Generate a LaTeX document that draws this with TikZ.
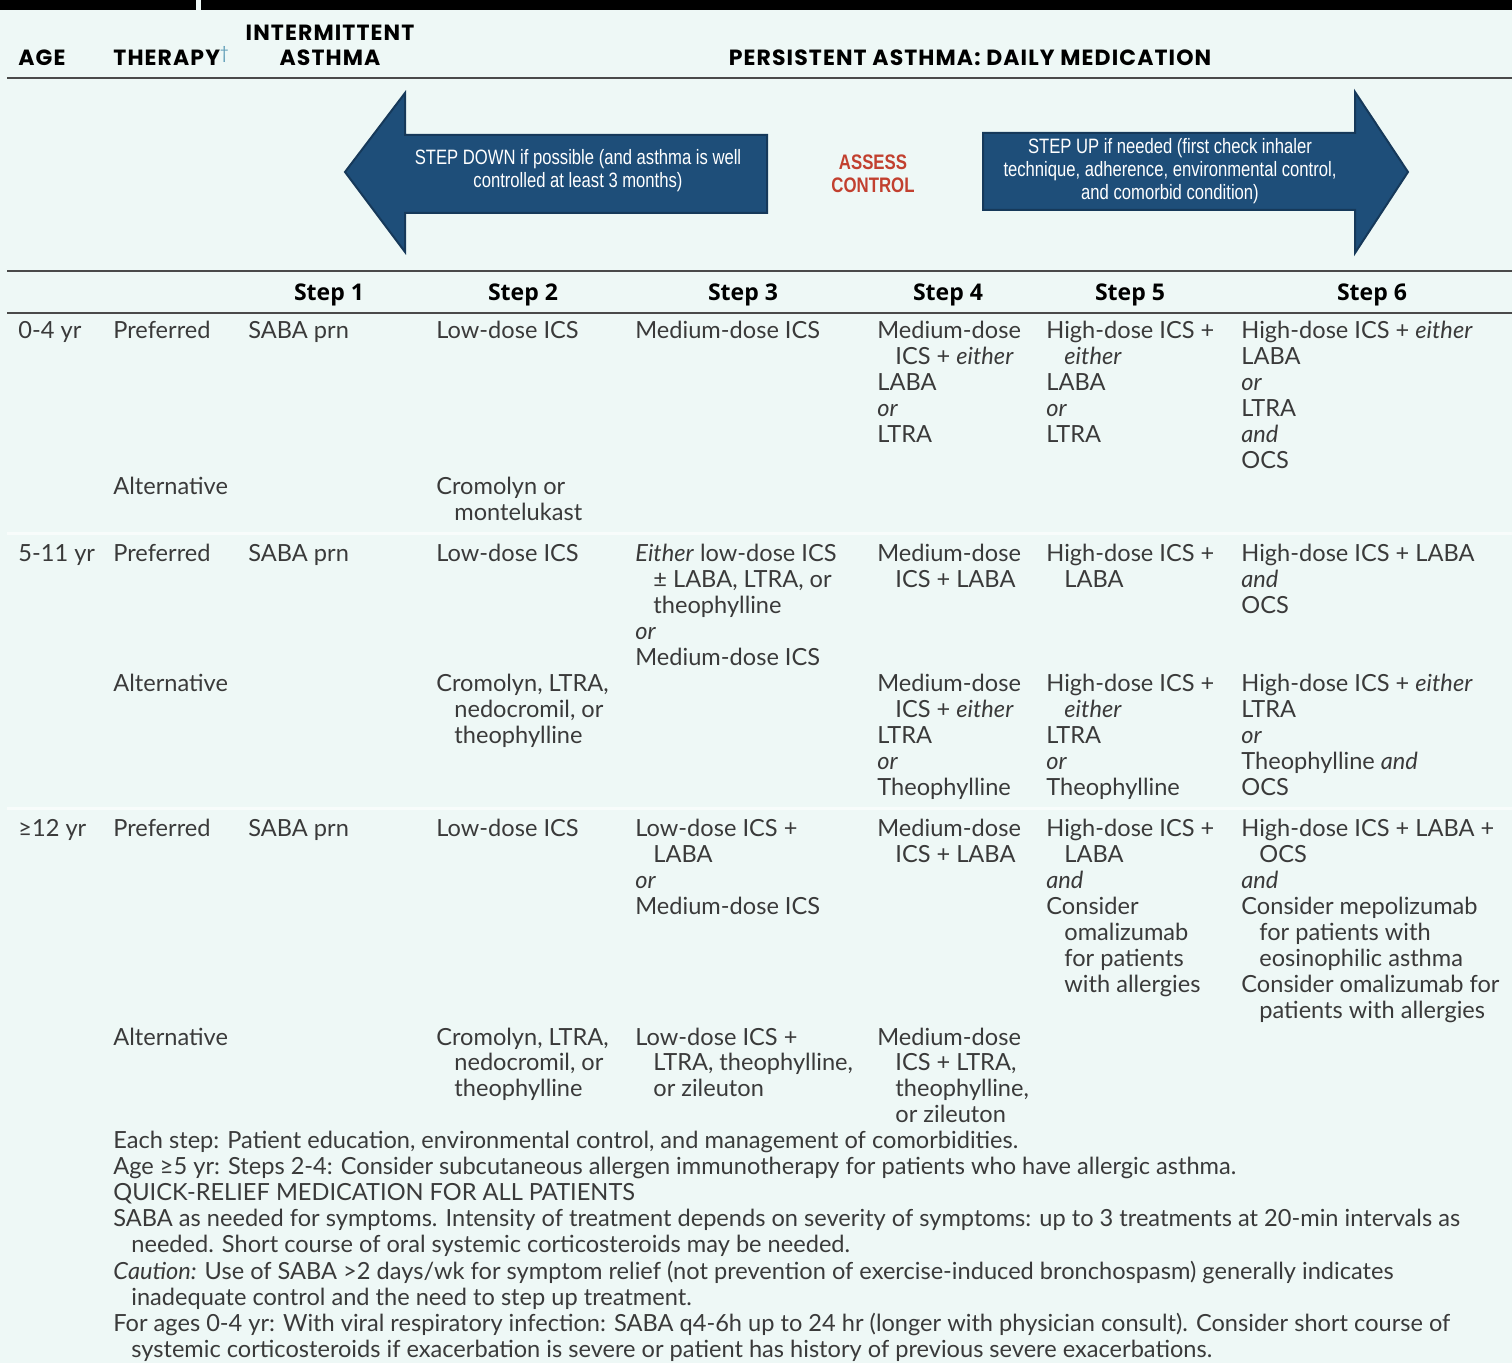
\documentclass[tikz,border=0pt]{standalone}
\usepackage{fontspec}
\setmainfont{Lato}
\newfontfamily\condfont{Liberation Sans}[FakeStretch=0.8]
\newfontfamily\headfont{Poppins}[LetterSpace=5]
\newfontfamily\stepfont{Open Sans}
\definecolor{bg}{HTML}{EEF8F6}
\definecolor{txt}{HTML}{3A3A3A}
\definecolor{navy}{HTML}{1E4E79}
\definecolor{navyd}{HTML}{16395A}
\definecolor{assess}{HTML}{C2402F}
\definecolor{rule}{HTML}{4A4A4A}
\definecolor{dagger}{HTML}{5A9AB5}
\newcommand{\ind}{\hspace*{9pt}}
\newcommand{\cell}[4]{\node[body] (#1) at (#2,#3) {\begin{tabular}[t]{@{}l@{}}#4\end{tabular}};}
\tikzset{
  body/.style={font=\fontsize{11.8}{13}\selectfont, text=txt, inner sep=0pt, anchor=base west},
  hdr/.style={font=\headfont\fontsize{11}{12}\selectfont\bfseries, text=black, inner sep=0pt},
  stephdr/.style={font=\stepfont\fontsize{11.5}{13}\selectfont\bfseries, text=black, inner sep=0pt, anchor=base},
  arrowtext/.style={font=\condfont\fontsize{10.4}{11.5}\selectfont, text=white, align=center, inner sep=0pt},
  hrule/.style={draw=rule, line width=1.2pt},
  bigarrow/.style={fill=navy, draw=navyd, line width=1pt, line join=miter}
}
\begin{document}
\begin{tikzpicture}[x=0.5pt,y=-0.5pt]
\useasboundingbox (0,0) rectangle (1512,1363);
\fill[bg] (0,0) rectangle (1512,1363);
% top black bar
\fill[black] (0,0) rectangle (1512,10);
\fill[bg] (196,0) rectangle (201,10);
% rules
\draw[hrule] (7,78) -- (1512,78);
\draw[hrule] (7,271) -- (1512,271);
\draw[hrule] (7,313) -- (1512,313);
% faint band separators
\draw[white, opacity=0.6, line width=1.5pt] (7,534) -- (1512,534);
\draw[white, opacity=0.6, line width=1.5pt] (7,809) -- (1512,809);

% header
\node[hdr, anchor=base west] (hage) at (18,66) {AGE};
\node[hdr, anchor=base west] (hther) at (113,66) {THERAPY\textsuperscript{\mdseries\color{dagger}†}};
\node[hdr, anchor=base] (hint1) at (330,41) {INTERMITTENT};
\node[hdr, anchor=base] (hint2) at (330,66) {ASTHMA};
\node[hdr, anchor=base] (hpers) at (970,66) {PERSISTENT ASTHMA: DAILY MEDICATION};

% arrows
\path[bigarrow] (345,172) -- (405,93) -- (405,135) -- (767,135) -- (767,213) -- (405,213) -- (405,252) -- cycle;
\path[bigarrow] (983,133) -- (1355,133) -- (1355,92) -- (1408,172) -- (1355,253) -- (1355,210) -- (983,210) -- cycle;
\node[arrowtext] (down) at (578,171) {STEP DOWN if possible (and asthma is well\\controlled at least 3 months)};
\node[arrowtext] (up) at (1170,171) {STEP UP if needed (first check inhaler\\technique, adherence, environmental control,\\and comorbid condition)};
\node[font=\condfont\fontsize{10.5}{11.5}\selectfont\bfseries, text=assess, align=center, inner sep=0pt] (assess) at (873,174) {ASSESS\\CONTROL};

% step header
\node[stephdr] (s1) at (329,301) {Step 1};
\node[stephdr] (s2) at (523,301) {Step 2};
\node[stephdr] (s3) at (743,301) {Step 3};
\node[stephdr] (s4) at (948,301) {Step 4};
\node[stephdr] (s5) at (1130,301) {Step 5};
\node[stephdr] (s6) at (1372,301) {Step 6};

% ---- 0-4 yr
\cell{a1}{18}{339}{0-4 yr}
\cell{a1p}{113}{339}{Preferred}
\cell{a1s1}{248}{339}{SABA prn}
\cell{a1s2}{436}{339}{Low-dose ICS}
\cell{a1s3}{635}{339}{Medium-dose ICS}
\cell{a1s4}{877}{339}{Medium-dose\\\ind ICS + \emph{either}\\LABA\\\emph{or}\\LTRA}
\cell{a1s5}{1046}{339}{High-dose ICS +\\\ind \emph{either}\\LABA\\\emph{or}\\LTRA}
\cell{a1s6}{1241}{339}{High-dose ICS + \emph{either}\\LABA\\\emph{or}\\LTRA\\\emph{and}\\OCS}
\cell{a1a}{113}{495}{Alternative}
\cell{a1as2}{436}{495}{Cromolyn or\\\ind montelukast}

% ---- 5-11 yr
\cell{a2}{18}{562}{5-11 yr}
\cell{a2p}{113}{562}{Preferred}
\cell{a2s1}{248}{562}{SABA prn}
\cell{a2s2}{436}{562}{Low-dose ICS}
\cell{a2s3}{635}{562}{\emph{Either} low-dose ICS\\\ind ± LABA, LTRA, or\\\ind theophylline\\\emph{or}\\Medium-dose ICS}
\cell{a2s4}{877}{562}{Medium-dose\\\ind ICS + LABA}
\cell{a2s5}{1046}{562}{High-dose ICS +\\\ind LABA}
\cell{a2s6}{1241}{562}{High-dose ICS + LABA\\\emph{and}\\OCS}
\cell{a2a}{113}{692}{Alternative}
\cell{a2as2}{436}{692}{Cromolyn, LTRA,\\\ind nedocromil, or\\\ind theophylline}
\cell{a2as4}{877}{692}{Medium-dose\\\ind ICS + \emph{either}\\LTRA\\\emph{or}\\Theophylline}
\cell{a2as5}{1046}{692}{High-dose ICS +\\\ind \emph{either}\\LTRA\\\emph{or}\\Theophylline}
\cell{a2as6}{1241}{692}{High-dose ICS + \emph{either}\\LTRA\\\emph{or}\\Theophylline \emph{and}\\OCS}

% ---- >=12 yr
\cell{a3}{18}{837}{≥12 yr}
\cell{a3p}{113}{837}{Preferred}
\cell{a3s1}{248}{837}{SABA prn}
\cell{a3s2}{436}{837}{Low-dose ICS}
\cell{a3s3}{635}{837}{Low-dose ICS +\\\ind LABA\\\emph{or}\\Medium-dose ICS}
\cell{a3s4}{877}{837}{Medium-dose\\\ind ICS + LABA}
\cell{a3s5}{1046}{837}{High-dose ICS +\\\ind LABA\\\emph{and}\\Consider\\\ind omalizumab\\\ind for patients\\\ind with allergies}
\cell{a3s6}{1241}{837}{High-dose ICS + LABA +\\\ind OCS\\\emph{and}\\Consider mepolizumab\\\ind for patients with\\\ind eosinophilic asthma\\Consider omalizumab for\\\ind patients with allergies}
\cell{a3a}{113}{1045}{Alternative}
\cell{a3as2}{436}{1045}{Cromolyn, LTRA,\\\ind nedocromil, or\\\ind theophylline}
\cell{a3as3}{635}{1045}{Low-dose ICS +\\\ind LTRA, theophylline,\\\ind or zileuton}
\cell{a3as4}{877}{1045}{Medium-dose\\\ind ICS + LTRA,\\\ind theophylline,\\\ind or zileuton}

% ---- footnotes
\cell{fn}{113}{1149}{Each step: Patient education, environmental control, and management of comorbidities.\\
Age ≥5 yr: Steps 2-4: Consider subcutaneous allergen immunotherapy for patients who have allergic asthma.\\
QUICK-RELIEF MEDICATION FOR ALL PATIENTS\\
SABA as needed for symptoms. Intensity of treatment depends on severity of symptoms: up to 3 treatments at 20-min intervals as\\
\ind needed. Short course of oral systemic corticosteroids may be needed.\\
\emph{Caution:} Use of SABA >2 days/wk for symptom relief (not prevention of exercise-induced bronchospasm) generally indicates\\
\ind inadequate control and the need to step up treatment.\\
For ages 0-4 yr: With viral respiratory infection: SABA q4-6h up to 24 hr (longer with physician consult). Consider short course of\\
\ind systemic corticosteroids if exacerbation is severe or patient has history of previous severe exacerbations.}
\end{tikzpicture}
\end{document}
